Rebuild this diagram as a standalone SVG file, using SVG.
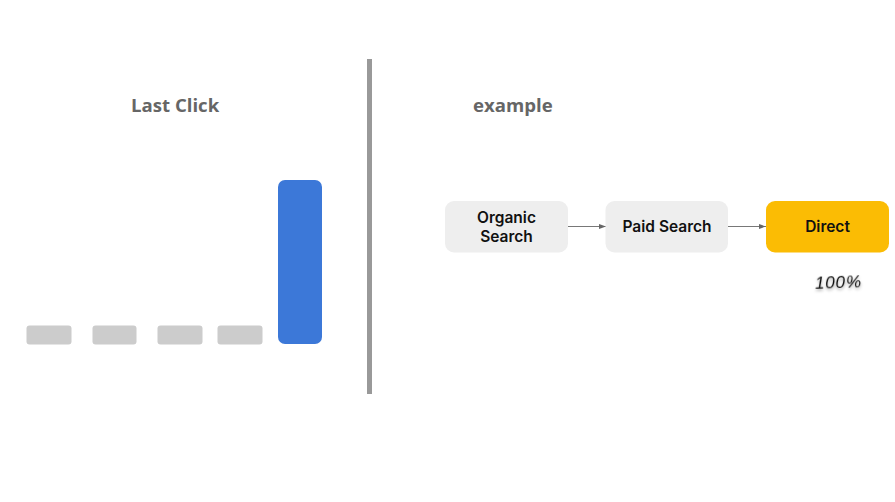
<svg xmlns="http://www.w3.org/2000/svg" width="895" height="502" viewBox="0 0 895 502">
<defs>
<marker id="arr" markerUnits="userSpaceOnUse" markerWidth="7" markerHeight="6" refX="7" refY="3" orient="auto"><path d="M0 0.6L7 3L0 5.4Z" fill="#666"/></marker>
<filter id="sh" x="-20%" y="-50%" width="140%" height="220%"><feDropShadow dx="0" dy="2" stdDeviation="1.5" flood-color="#000" flood-opacity="0.35"/></filter>
</defs>
<style>
.h{font-family:"Open Sans",sans-serif;font-weight:700;font-size:18.600px;fill:#666}
.n{font-family:Inter,Roboto,sans-serif;font-weight:600;font-size:15.500px;fill:#111;text-anchor:middle}
.g{fill:#ccc}
.c{fill:#eee}
.l{stroke:#555;stroke-width:.8;fill:none;marker-end:url(#arr)}
</style>
<rect width="895" height="502" fill="#fff"/>
<text class="h" x="131" y="112">Last Click</text>
<text class="h" x="473" y="112">example</text>
<g id="bars">
<rect class="g" x="26.500" y="325.500" width="45" height="19" rx="3"/>
<rect class="g" x="92.500" y="325.500" width="44" height="19" rx="3"/>
<rect class="g" x="157.500" y="325.500" width="45" height="19" rx="3"/>
<rect class="g" x="217.500" y="325.500" width="45" height="19" rx="3"/>
<rect x="278" y="180" width="44" height="164" rx="7" fill="#3c78d8"/>
</g>
<rect id="divider" x="367" y="59" width="5" height="335" fill="#999"/>
<g id="connectors">
<path class="l" d="M568 226.500H606"/>
<path class="l" d="M728 226.500H766"/>
</g>
<g id="organic"><rect class="c" x="445" y="201" width="123" height="51.500" rx="9"/><text class="n" x="506.500" y="223">Organic</text><text class="n" x="506.500" y="242">Search</text></g>
<g id="paid"><rect class="c" x="605.500" y="201" width="122.500" height="51.500" rx="9"/><text class="n" x="667" y="232">Paid Search</text></g>
<g id="direct"><rect x="766" y="201" width="123" height="51.500" rx="9" fill="#fbbc04"/><text class="n" x="827.500" y="232">Direct</text></g>
<text x="815" y="288" filter="url(#sh)" style="font-family:'Liberation Sans',sans-serif;font-style:italic;font-size:17px;fill:#111" textLength="46" transform="rotate(-2 838 282)">100%</text>
</svg>
